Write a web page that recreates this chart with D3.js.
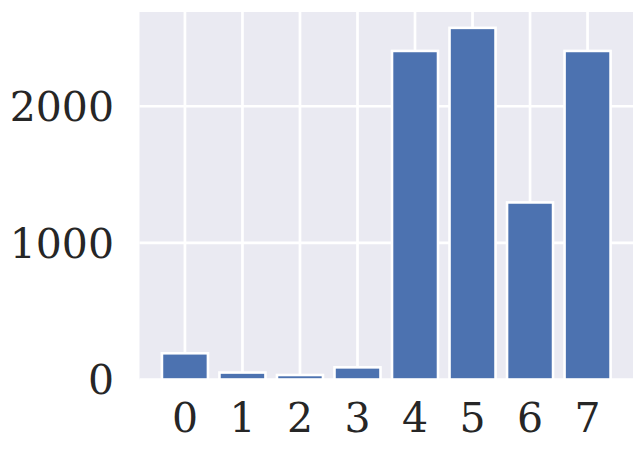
<!DOCTYPE html>
<html><head><meta charset="utf-8">
<script src="https://cdn.jsdelivr.net/npm/d3@7"></script>
<style>html,body{margin:0;padding:0;background:#fff;}</style>
</head><body>
<svg id="chart" width="643" height="451"></svg>
<script>
const categories = [0, 1, 2, 3, 4, 5, 6, 7];
const values = [192, 51, 33, 89, 2405, 2574, 1296, 2405];
const yTicks = [0, 1000, 2000];

const svg = d3.select("#chart");
const pLeft = 139.5, pRight = 633, pTop = 12, pBottom = 379.5;

const x = d3.scaleLinear().domain([-0.79, 7.79]).range([pLeft, pRight]);
const y = d3.scaleLinear().domain([0, 2690]).range([pBottom, pTop]);

svg.append("rect").attr("x", pLeft).attr("y", pTop)
  .attr("width", pRight - pLeft).attr("height", pBottom - pTop).attr("fill", "#EAEAF2");

const g = svg.append("g");
g.selectAll("line.vg").data(categories).join("line")
  .attr("x1", d => x(d)).attr("x2", d => x(d)).attr("y1", pTop).attr("y2", pBottom)
  .attr("stroke", "#fff").attr("stroke-width", 2.7);
g.selectAll("line.hg").data(yTicks).join("line")
  .attr("x1", pLeft).attr("x2", pRight).attr("y1", d => y(d)).attr("y2", d => y(d))
  .attr("stroke", "#fff").attr("stroke-width", 2.7);

const bw = 0.8;
svg.append("g").selectAll("rect").data(categories).join("rect")
  .attr("x", d => x(d - bw / 2)).attr("width", d => x(bw) - x(0))
  .attr("y", (d, i) => y(values[i])).attr("height", (d, i) => y(0) - y(values[i]))
  .attr("fill", "#4C72B0").attr("stroke", "#fff").attr("stroke-width", 2.6);

const font = "DejaVu Serif";
svg.append("g").selectAll("text").data(categories).join("text")
  .attr("x", d => x(d)).attr("y", 431.5).attr("text-anchor", "middle")
  .attr("font-family", font).attr("font-size", 41).attr("fill", "#262626")
  .text(d => d);
svg.append("g").selectAll("text").data(yTicks).join("text")
  .attr("x", 114).attr("y", d => y(d)).attr("dy", "0.365em").attr("text-anchor", "end")
  .attr("font-family", font).attr("font-size", 41).attr("fill", "#262626")
  .text(d => d);
</script>
</body></html>
